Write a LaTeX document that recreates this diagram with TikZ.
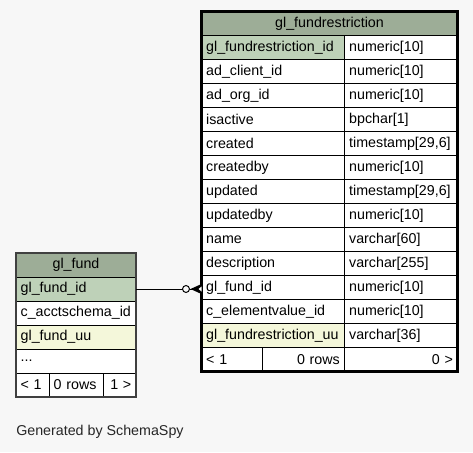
\documentclass[tikz,border=0pt]{standalone}
\usepackage{fontspec}
\setmainfont{Liberation Sans}
\usetikzlibrary{positioning, calc}
\definecolor{sbg}{HTML}{F7F7F7}
\definecolor{shead}{HTML}{9DAD97}
\definecolor{spk}{HTML}{BED1B8}
\definecolor{suniq}{HTML}{F4F7DA}
\tikzset{
  cell/.style={draw=black, fill=white, line width=0.75pt, anchor=north west,
               minimum height=18pt, inner xsep=3.5pt, inner ysep=0pt, outer sep=0pt,
               align=left, font=\fontsize{10.7}{12.8}\selectfont},
  headcell/.style={cell, fill=shead, align=center},
  rcell/.style={cell, align=right},
  fklink/.style={line width=0.75pt, black},
}

\begin{document}
\begin{tikzpicture}[x=0.75pt, y=-0.75pt]
  \fill[sbg] (0,0) rectangle (473,452);
  \useasboundingbox (0,0) rectangle (473,452);

  % gl_fundrestriction
  \node[headcell, text width=185pt] (frhead) at (201.5,11.5) {gl\_fundrestriction};
  \foreach \fname/\ftype/\fcol [count=\i] in {
      gl\_fundrestriction\_id/numeric[10]/spk,
      ad\_client\_id/numeric[10]/white,
      ad\_org\_id/numeric[10]/white,
      isactive/bpchar[1]/white,
      created/timestamp[29{,}6]/white,
      createdby/numeric[10]/white,
      updated/timestamp[29{,}6]/white,
      updatedby/numeric[10]/white,
      name/varchar[60]/white,
      description/varchar[255]/white,
      gl\_fund\_id/numeric[10]/white,
      c\_elementvalue\_id/numeric[10]/white,
      gl\_fundrestriction\_uu/varchar[36]/suniq} {
    \node[cell, fill=\fcol, text width=100.25pt] (fr\i) at (201.5,{11.5+24*\i}) {\fname};
    \node[cell, text width=77.75pt] (ft\i) at (344.5,{11.5+24*\i}) {\ftype};
  }
  \node[cell, text width=38.375pt] (frf1) at (201.5,347.5) {< 1};
  \node[rcell, text width=54.875pt] (frf2) at (262,347.5) {0 rows};
  \node[rcell, text width=77.75pt] (frf3) at (344.5,347.5) {0 >};
  \draw[line width=2.25pt] (frhead.north west) rectangle (frf3.south east);

  % gl_fund
  \node[headcell, text width=83pt] (fhead) at (16,253) {gl\_fund};
  \foreach \fname/\fcol [count=\i] in {
      gl\_fund\_id/spk,
      c\_acctschema\_id/white,
      gl\_fund\_uu/suniq} {
    \node[cell, fill=\fcol, text width=83pt] (fid\i) at (16,{253+24*\i}) {\fname};
  }
  \node[cell, text width=83pt] (fid4) at (16,349) {.{}.{}.};
  \node[cell, text width=17.75pt] (ff1) at (16,373) {< 1};
  \node[cell, text width=33.5pt] (ff2) at (49,373) {0 rows};
  \node[rcell, text width=17.75pt] (ff3) at (103,373) {1 >};
  \draw[line width=1.1pt, black!75] (fhead.north west) rectangle (ff3.south east);

  % gl_fund_id -> gl_fundrestriction.gl_fund_id
  \coordinate (fkend) at (fid1.east -| fr11.west);
  \draw[fklink] (fid1.east) -- ($(fkend)+(-19,0)$);
  \draw[fklink] ($(fkend)+(-12,0)$) -- (fkend);
  \draw[fklink] ($(fkend)+(-15.5,0)$) circle (2.6pt);
  \fill ($(fkend)+(-11,0)$) -- ($(fkend)+(0,-5)$) -- ($(fkend)+(0,5)$) -- cycle;
  \fill[white] ($(fkend)+(-3,0)$) -- ($(fkend)+(0,-2.5)$) -- ($(fkend)+(0,2.5)$) -- cycle;

  \node[anchor=west, inner sep=0pt, font=\fontsize{10.7}{12.8}\selectfont, text=black!85]
    (gen) at (16,432) {Generated by SchemaSpy};

\end{tikzpicture}
\end{document}
